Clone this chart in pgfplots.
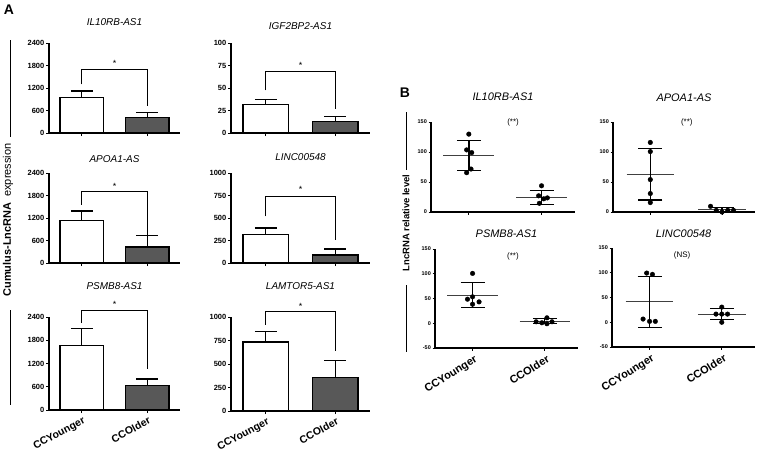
\documentclass[border=0pt]{standalone}
\usepackage{fontspec}
\setmainfont{Liberation Sans}
\usepackage{pgfplots}
\pgfplotsset{compat=1.18}
\definecolor{darkbar}{RGB}{88,88,88}
\pgfplotsset{
 common/.style={scale only axis, anchor=south west, axis lines*=left,
   axis line style={black,line width=1.1bp}, tick style={black,line width=1bp},
   tick align=outside, major tick length=3bp,
   /pgf/number format/assume math mode=true, /pgf/number format/1000 sep={},
   scaled y ticks=false, clip=false, xtick={0,1}, xticklabels={},
   title style={at={(0.5,1)}, anchor=center}},
 panelA/.style={common, xmin=-0.5, xmax=1.5, ymin=0,
   yticklabel style={font=\bfseries\fontsize{7.5}{8}\selectfont, inner sep=1.5bp},
   title style={font=\itshape\fontsize{10}{12}\selectfont}},
 panelB/.style={common, xmin=-0.52, xmax=1.46, major tick length=2.5bp,
   yticklabel style={font=\bfseries\fontsize{5.5}{6}\selectfont, inner sep=1.5bp},
   title style={font=\itshape\fontsize{11}{12}\selectfont}},
 labA/.style={xticklabels={CCYounger,CCOlder},
   xticklabel style={rotate=28, anchor=north east, font=\bfseries\fontsize{10.5}{12}\selectfont, inner sep=1bp, yshift=-2bp}},
 labB/.style={xticklabels={CCYounger,CCOlder},
   xticklabel style={rotate=32, anchor=north east, font=\bfseries\fontsize{11}{12}\selectfont, inner sep=1bp, yshift=-3bp}},
 whitebar/.style={ybar, bar width=0.66, bar shift=0pt, fill=white, draw=black, line width=1.4bp,
   error bars/y dir=plus, error bars/y explicit, error bars/error mark=|,
   error bars/error bar style={line width=1.4bp, black, solid},
   error bars/error mark options={line width=1.4bp, black, mark size=11bp}},
 darkbarst/.style={whitebar, fill=darkbar},
 bracket/.style={black, line width=0.9bp, mark=none, sharp plot},
 pts/.style={only marks, mark=*, mark size=2.3bp, black},
 meanline/.style={black!75, line width=1bp, mark=none, sharp plot},
 sdbar/.style={draw=none, mark=none,
   error bars/y dir=both, error bars/y explicit, error bars/error mark=|,
   error bars/error bar style={line width=1.4bp, draw=black, solid},
   error bars/error mark options={line width=1.4bp, draw=black, mark size=12bp}},
}
\newcommand{\sigstar}[2]{\node[font=\fontsize{9}{10}\selectfont] at (axis cs:#1,#2) {*};}
\begin{document}
\begin{tikzpicture}
\path[use as bounding box] (0,0) rectangle (760bp,-458bp);
% ---------------- Panel A ----------------
\begin{axis}[panelA, at={(49bp,-133bp)}, width=131bp, height=90bp, ymax=2400,
  ytick={0,600,1200,1800,2400}, title={IL10RB-AS1}, title style={yshift=15bp}]
\addplot[whitebar] coordinates {(0,941) +- (0,179)};
\addplot[darkbarst] coordinates {(1,420) +- (0,133)};
\addplot[bracket] coordinates {(0,1297) (0,1703) (1,1703) (1,723)};
\sigstar{0.5}{1852}
\end{axis}
\begin{axis}[panelA, at={(231bp,-133bp)}, width=139bp, height=90bp, ymax=100,
  ytick={0,25,50,75,100}, title={IGF2BP2-AS1}, title style={yshift=11bp}]
\addplot[whitebar] coordinates {(0,31.5) +- (0,5.9)};
\addplot[darkbarst] coordinates {(1,13) +- (0,5.5)};
\addplot[bracket] coordinates {(0,47.4) (0,68.9) (1,68.9) (1,27)};
\sigstar{0.5}{75}
\end{axis}
\begin{axis}[panelA, at={(49bp,-263bp)}, width=131bp, height=90bp, ymax=2400,
  ytick={0,600,1200,1800,2400}, title={APOA1-AS}, title style={yshift=8bp}]
\addplot[whitebar] coordinates {(0,1138) +- (0,249)};
\addplot[darkbarst] coordinates {(1,427) +- (0,311)};
\addplot[bracket] coordinates {(0,1547) (0,1911) (1,1911) (1,738)};
\sigstar{0.5}{2045}
\end{axis}
\begin{axis}[panelA, at={(231bp,-263bp)}, width=139bp, height=90bp, ymax=1000,
  ytick={0,250,500,750,1000}, title={LINC00548}, title style={yshift=10bp}]
\addplot[whitebar] coordinates {(0,318) +- (0,71)};
\addplot[darkbarst] coordinates {(1,89) +- (0,66)};
\addplot[bracket] coordinates {(0,518) (0,740) (1,740) (1,259)};
\sigstar{0.5}{814}
\end{axis}
\begin{axis}[panelA, labA, at={(49bp,-410bp)}, width=131bp, height=93bp, ymax=2400,
  ytick={0,600,1200,1800,2400}, title={PSMB8-AS1}, title style={yshift=25bp}]
\addplot[whitebar] coordinates {(0,1657) +- (0,449)};
\addplot[darkbarst] coordinates {(1,639) +- (0,164)};
\addplot[bracket] coordinates {(0,2244) (0,2572) (1,2572) (1,1053)};
\sigstar{0.5}{2718}
\end{axis}
\begin{axis}[panelA, labA, at={(231bp,-411bp)}, width=139bp, height=94bp, ymax=1000,
  ytick={0,250,500,750,1000}, title={LAMTOR5-AS1}, title style={yshift=25bp}]
\addplot[whitebar] coordinates {(0,736) +- (0,110)};
\addplot[darkbarst] coordinates {(1,357) +- (0,179)};
\addplot[bracket] coordinates {(0,918) (0,1061) (1,1061) (1,639)};
\sigstar{0.5}{1114}
\end{axis}
% ---------------- Panel B ----------------
\begin{axis}[panelB, at={(431bp,-212bp)}, width=144bp, height=90bp, ymin=0, ymax=150,
  ytick={0,50,100,150}, title={IL10RB-AS1}, title style={yshift=19bp}]
\addplot[meanline] coordinates {(-0.35,94) (0.35,94)};
\addplot[sdbar] coordinates {(0,94) +- (0,25)};
\addplot[pts] coordinates {(0,129.8) (-0.03,103.5) (0.04,99) (0.03,71.6) (-0.03,65.5)};
\addplot[meanline] coordinates {(0.65,24.6) (1.35,24.6)};
\addplot[sdbar] coordinates {(1,24.6) +- (0,11.7)};
\addplot[pts] coordinates {(1,43.7) (0.96,27) (1.08,23.5) (1.03,22) (0.97,14.5)};
\node[font=\fontsize{8}{9}\selectfont] at (rel axis cs:0.57,0.99) {(**)};
\end{axis}
\begin{axis}[panelB, at={(613bp,-212bp)}, width=142bp, height=90bp, ymin=0, ymax=150,
  ytick={0,50,100,150}, title={APOA1-AS}, title style={yshift=18bp}]
\addplot[meanline] coordinates {(-0.33,63.2) (0.33,63.2)};
\addplot[sdbar] coordinates {(0,63) +- (0,43)};
\addplot[pts] coordinates {(0,115.9) (0,100.7) (0,54) (0,30.8) (0,15.7)};
\addplot[meanline] coordinates {(0.67,3.9) (1.33,3.9)};
\addplot[sdbar] coordinates {(1,4.1) +- (0,3.2)};
\addplot[pts] coordinates {(0.84,9.5) (0.92,2.8) (1,0) (1.08,2.8) (1.16,2.8)};
\node[font=\fontsize{8}{9}\selectfont] at (rel axis cs:0.52,1.0) {(**)};
\end{axis}
\begin{axis}[panelB, labB, at={(435bp,-348bp)}, width=143bp, height=99bp, ymin=-50, ymax=150,
  ytick={-50,0,50,100,150}, title={PSMB8-AS1}, title style={yshift=9bp}]
\addplot[meanline] coordinates {(-0.35,56.8) (0.35,56.8)};
\addplot[sdbar] coordinates {(0,56.8) +- (0,25)};
\addplot[pts] coordinates {(0,100.7) (0,53.4) (-0.07,48.6) (0.09,43.2) (0,38.5)};
\addplot[meanline] coordinates {(0.65,4.4) (1.35,4.4)};
\addplot[sdbar] coordinates {(1,4.4) +- (0,5.1)};
\addplot[pts] coordinates {(0.88,3) (0.96,1) (1.03,11) (1.1,3) (1.03,-1)};
\node[font=\fontsize{8}{9}\selectfont] at (rel axis cs:0.545,0.92) {(**)};
\end{axis}
\begin{axis}[panelB, labB, at={(612bp,-347bp)}, width=143bp, height=99bp, ymin=-50, ymax=150,
  ytick={-50,0,50,100,150}, title={LINC00548}, title style={yshift=8bp}]
\addplot[meanline] coordinates {(-0.33,41.5) (0.33,41.5)};
\addplot[sdbar] coordinates {(0,41.2) +- (0,51.5)};
\addplot[pts] coordinates {(-0.04,99.4) (0.04,96.7) (-0.09,6.5) (0,1.8) (0.08,1.8)};
\addplot[meanline] coordinates {(0.67,16) (1.33,16)};
\addplot[sdbar] coordinates {(1,16.3) +- (0,11.1)};
\addplot[pts] coordinates {(1,30.6) (0.92,16.5) (1,16.5) (1.08,16.5) (1,0)};
\node[font=\fontsize{8}{9}\selectfont] at (rel axis cs:0.49,0.92) {(NS)};
\end{axis}
% ---------------- decorations ----------------
\node[font=\bfseries\fontsize{14}{16}\selectfont] at (9bp,-10bp) {A};
\node[font=\bfseries\fontsize{14}{16}\selectfont] at (405bp,-93bp) {B};
\draw[line width=0.8bp] (10bp,-40bp) -- (10bp,-137bp);
\draw[line width=0.8bp] (10bp,-310bp) -- (10bp,-405bp);
\node[rotate=90, font=\fontsize{11}{12}\selectfont] at (8bp,-220bp) {\textbf{Cumulus-LncRNA}\ \ expression};
\draw[line width=0.8bp] (406bp,-112bp) -- (406bp,-170bp);
\draw[line width=0.8bp] (406bp,-285bp) -- (406bp,-352bp);
\node[rotate=90, font=\bfseries\fontsize{9.5}{11}\selectfont] at (406bp,-223bp) {LncRNA relative level};
\end{tikzpicture}
\end{document}
